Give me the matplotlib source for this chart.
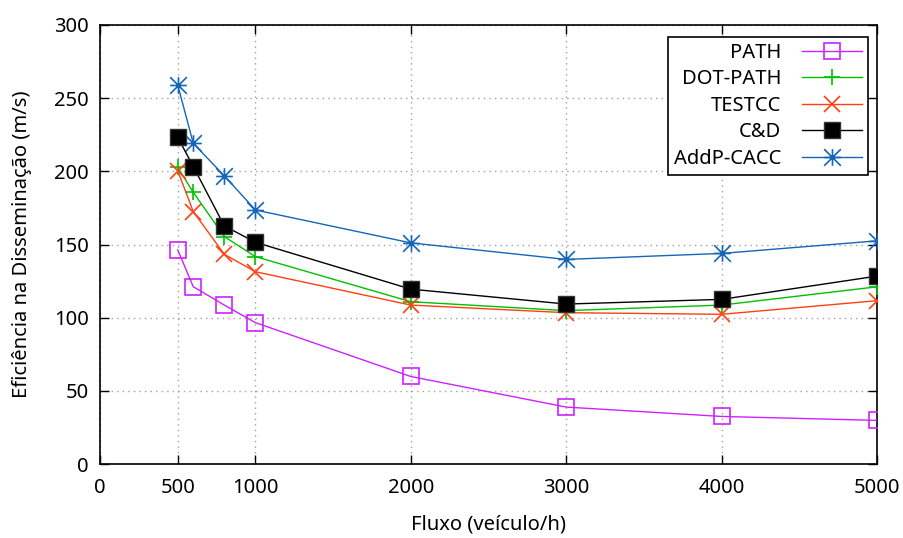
import matplotlib
matplotlib.use("Agg")
import matplotlib.pyplot as plt
from matplotlib.path import Path

plt.rcParams['font.family'] = ['Noto Sans', 'DejaVu Sans']

x = [500, 600, 800, 1000, 2000, 3000, 4000, 5000]
path = [146.3, 121.2, 108.6, 96.6, 59.8, 38.9, 32.5, 29.8]
dot_path = [202.8, 185.7, 155.4, 141.7, 110.9, 104.8, 108.6, 121.1]
testcc = [200.5, 172.5, 143.3, 131.4, 108.6, 103.4, 102.3, 111.6]
cd = [223.3, 203.3, 162.7, 151.5, 119.5, 109.3, 112.5, 128.4]
addp = [259.1, 219.2, 196.9, 173.6, 151.1, 139.8, 143.9, 152.5]

xticks = [0, 500, 1000, 2000, 3000, 4000, 5000]
yticks = [0, 50, 100, 150, 200, 250, 300]

# gnuplot-style asterisk: plus combined with cross
star = Path([(0, -1), (0, 1), (-1, 0), (1, 0), (-1, -1), (1, 1), (-1, 1), (1, -1)],
            [Path.MOVETO, Path.LINETO] * 4)

fs = 14.5
fig = plt.figure(figsize=(9.04, 5.38), dpi=100)
ax = fig.add_axes([100/904, 1-464/538, 777/904, 439/538])

lw = 1.0
ax.plot(x, path, color='#cc22ff', lw=lw, marker='s', ms=11, mfc='none', mec='#cc22ff', mew=1.2, label='PATH', zorder=3)
ax.plot(x, dot_path, color='#00c000', lw=lw, marker='+', ms=11, mew=1.2, label='DOT-PATH', zorder=3)
ax.plot(x, testcc, color='#ff4010', lw=lw, marker='x', ms=11, mew=1.2, label='TESTCC', zorder=3)
ax.plot(x, cd, color='black', lw=lw, marker='s', ms=11, mfc='black', mec='#333333', mew=1.0, label='C&D', zorder=4)
ax.plot(x, addp, color='#1565b8', lw=lw, marker=star, ms=12, mew=1.2, label='AddP-CACC', zorder=3)

ax.set_xlim(0, 5000)
ax.set_ylim(0, 300)
ax.set_xticks(xticks)
ax.set_yticks(yticks)
ax.tick_params(direction='in', length=6.5, width=1, top=True, right=True, labelsize=fs, colors='black')
ax.tick_params(axis='x', pad=10)
ax.tick_params(axis='y', pad=8)
for s in ax.spines.values():
    s.set_linewidth(1.2)
ax.grid(True, color='#a0a0a0', linestyle=(0, (1, 3)), linewidth=1.0)
ax.set_axisbelow(True)

ax.set_xlabel('Fluxo (veículo/h)', fontsize=fs, labelpad=12)
ax.set_ylabel('Eficiência na Disseminação (m/s)', fontsize=fs, labelpad=16)

leg = ax.legend(loc='upper right', bbox_to_anchor=(868/904, 1-37/538), bbox_transform=fig.transFigure,
                markerfirst=False, fontsize=fs, frameon=True, fancybox=False, framealpha=1,
                edgecolor='black', handlelength=3.0, handletextpad=1.0, labelspacing=0.32,
                borderpad=0.3, borderaxespad=0)
leg.get_frame().set_linewidth(1.2)

fig.savefig('out.png', dpi=100)
